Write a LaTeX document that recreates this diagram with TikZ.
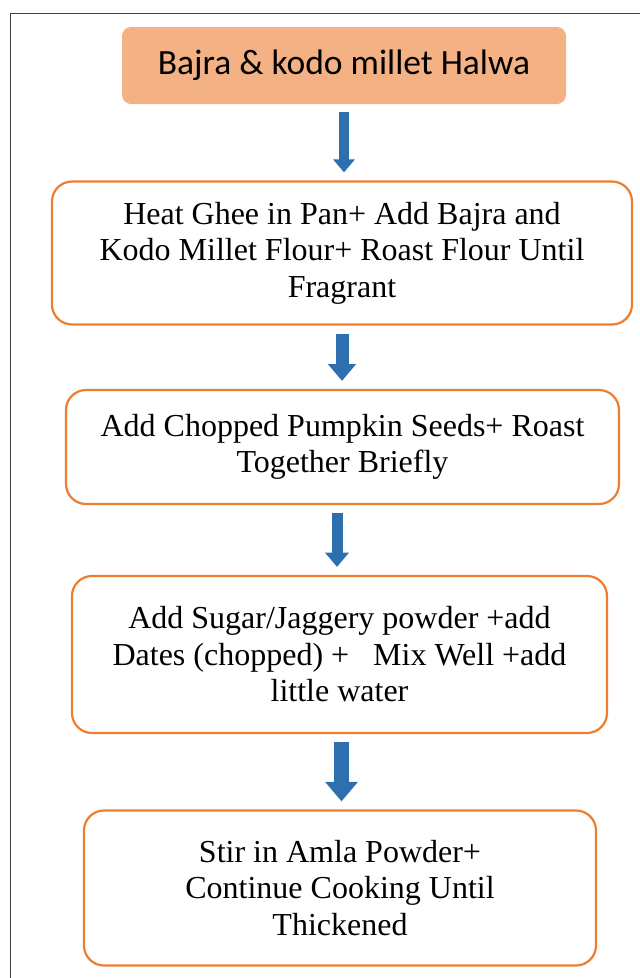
\documentclass[tikz,border=0pt]{standalone}
\usepackage{fontspec}
\setmainfont{Liberation Serif}
\newfontfamily\titlefont{Carlito}
\usetikzlibrary{arrows.meta, positioning, calc}

\definecolor{peach}{HTML}{F4B183}
\definecolor{rimorange}{HTML}{ED7D31}
\definecolor{flowblue}{HTML}{2E6FB0}

\begin{document}
\begin{tikzpicture}[
    x=1pt, y=-1pt,
    titlebox/.style={rectangle,rounded corners=9pt,fill=peach,align=center,minimum width=444pt,minimum height=77pt,font=\titlefont\fontsize{35.5}{40}\selectfont},
    stepbox/.style={rectangle,rounded corners=20pt,draw=rimorange,line width=2.2pt,align=center,font=\fontsize{32}{36.5}\selectfont},
    arrow/.style={draw=flowblue,line width=#1,-{Triangle[width=2.1*#1,length=1.3*#1]},shorten <=8pt,shorten >=8pt}
]
\useasboundingbox (0,0) rectangle (640,978);
\draw[black!75,line width=1pt] (10,978) -- (10,13) -- (640,13);

\node[titlebox] (title) at (344,65.5) {Bajra \& kodo millet Halwa};
\node[stepbox,minimum width=580pt,minimum height=143pt] (heat) at (342,253) {Heat Ghee in Pan+ Add Bajra and\\Kodo Millet Flour+ Roast Flour Until\\Fragrant};
\node[stepbox,minimum width=553pt,minimum height=114pt] (seeds) at (342.5,447) {Add Chopped Pumpkin Seeds+ Roast\\Together Briefly};
\node[stepbox,minimum width=535pt,minimum height=157pt] (sugar) at (339.5,654.5) {Add Sugar/Jaggery powder +add\\Dates (chopped) + \ \ Mix Well +add\\little water};
\node[stepbox,minimum width=512pt,minimum height=155pt] (amla) at (340,888) {Stir in Amla Powder+\\Continue Cooking Until\\Thickened};

\draw[arrow=10pt] (title) -- ($(heat.north)+(2,0)$);
\draw[arrow=13pt] (heat) -- ($(seeds.north)+(-0.5,0)$);
\draw[arrow=11pt] ($(seeds.south)+(-5.5,0)$) -- ($(sugar.north)+(-2.5,0)$);
\draw[arrow=15pt] ($(sugar.south)+(2,0)$) -- ($(amla.north)+(1.5,0)$);

\end{tikzpicture}
\end{document}
